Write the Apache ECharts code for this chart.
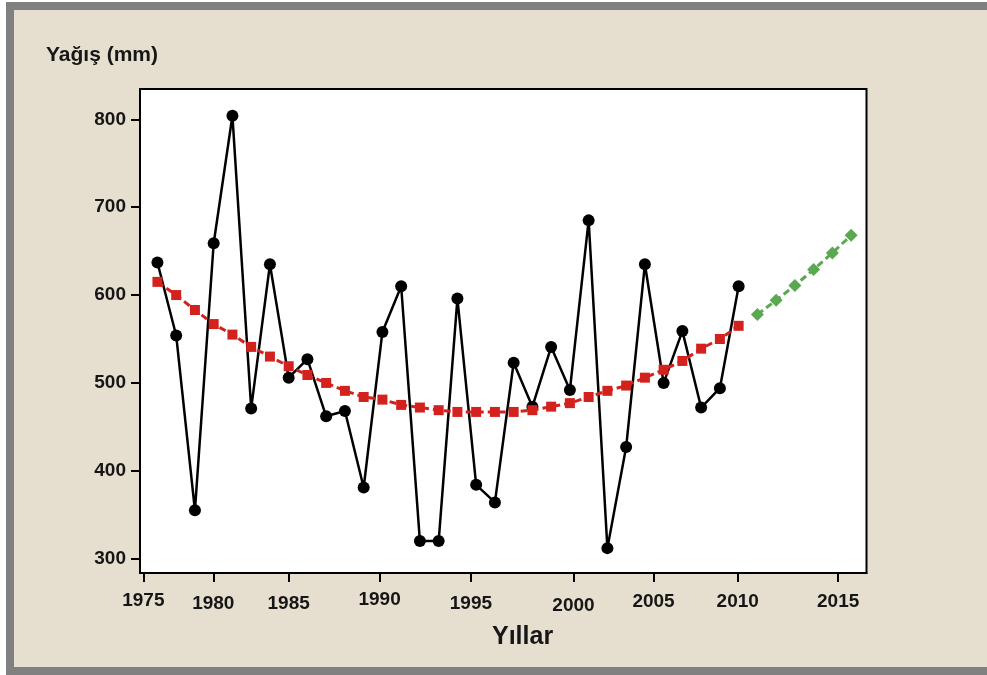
<!DOCTYPE html>
<html>
<head>
<meta charset="utf-8">
<script src="https://cdn.jsdelivr.net/npm/echarts@6/dist/echarts.min.js"></script>
<style>
  html, body { margin: 0; padding: 0; background: #ffffff; }
  #frame { position: absolute; left: 6px; top: 2px; width: 981px; height: 673px; background: #808080; }
  #panel { position: absolute; left: 14px; top: 10px; width: 973px; height: 657px; background: #e6dfcf; }
  #chart { position: absolute; left: 0; top: 0; width: 987px; height: 675px; }
</style>
</head>
<body>
<div id="frame"></div>
<div id="panel"></div>
<div id="chart"></div>
<script>
// Annual precipitation (mm), observed series
const years = [1979, 1980, 1981, 1982, 1983, 1984, 1985, 1986, 1987, 1988, 1989, 1990,
               1991, 1992, 1993, 1994, 1995, 1996, 1997, 1998, 1999, 2000, 2001, 2002,
               2003, 2004, 2005, 2006, 2007, 2008, 2009, 2010];
const observed = [637, 554, 355, 659, 804, 471, 635, 506, 527, 462, 468, 381,
                  558, 610, 320, 320, 596, 384, 364, 523, 473, 541, 492, 685,
                  312, 427, 635, 500, 559, 472, 494, 610];
// Fitted trend over the observed years
const trend = [615, 600, 583, 567, 555, 541, 530, 519, 509, 500, 491, 484,
               481, 475, 472, 469, 467, 467, 467, 467, 469, 473, 477, 484,
               491, 497, 506, 515, 525, 539, 550, 565];
// Projection beyond the observed period
const forecastYears = [2011, 2012, 2013, 2014, 2015, 2016];
const forecast = [578, 594, 611, 629, 648, 668];

// Axis tick labels
const xTickLabels = ['1975', '1980', '1985', '1990', '1995', '2000', '2005', '2010', '2015'];
const yTickLabels = [300, 400, 500, 600, 700, 800];

// Where each x tick sits on the year scale, and a small vertical nudge for its label
const xTickPos = [1978.25, 1981.98, 1986.0, 1990.85, 1995.72, 2001.19, 2005.46, 2009.95, 2015.31];
const xTickNudge = [2, 5, 5, 1, 5, 7, 3, 3, 3];

const FONT = '"Liberation Sans", Arial, sans-serif';
const INK = '#161616';

const rich = {};
xTickNudge.forEach((p, i) => {
  rich['n' + i] = { fontFamily: FONT, fontSize: 19, fontWeight: 'bold', color: INK, padding: [p, 0, 0, 0] };
});

const chart = echarts.init(document.getElementById('chart'), null, { renderer: 'canvas' });

chart.setOption({
  backgroundColor: 'transparent',
  animation: false,
  title: [
    {
      text: 'Yağış (mm)', left: 46, top: 45, padding: 0,
      textStyle: { fontFamily: FONT, fontSize: 21, fontWeight: 'bold', color: INK }
    },
    {
      text: 'Yıllar', left: 492, top: 625, padding: 0,
      textStyle: { fontFamily: FONT, fontSize: 25, fontWeight: 'bold', color: INK }
    }
  ],
  grid: {
    left: 140, top: 89, right: 120.5, bottom: 102,
    show: true, backgroundColor: '#ffffff', borderColor: '#000000', borderWidth: 2
  },
  xAxis: {
    type: 'value',
    min: 1978.07, max: 2016.82,
    axisLine: { show: true, lineStyle: { color: '#000', width: 2 } },
    axisTick: { show: true, length: 9, lineStyle: { color: '#000', width: 2 }, customValues: xTickPos },
    axisLabel: {
      customValues: xTickPos,
      margin: 16,
      formatter: function (v) {
        let k = 0, best = Infinity;
        xTickPos.forEach((p, i) => { const d = Math.abs(p - v); if (d < best) { best = d; k = i; } });
        return '{n' + k + '|' + xTickLabels[k] + '}';
      },
      rich: rich
    },
    splitLine: { show: false }
  },
  yAxis: {
    type: 'value',
    min: 283.7, max: 834.5,
    axisLine: { show: true, lineStyle: { color: '#000', width: 2 } },
    axisTick: { show: true, length: 9, lineStyle: { color: '#000', width: 2 }, customValues: yTickLabels },
    axisLabel: {
      customValues: yTickLabels,
      margin: 14,
      fontFamily: FONT, fontSize: 19, fontWeight: 'bold', color: INK
    },
    splitLine: { show: false }
  },
  series: [
    {
      name: 'Yağış',
      type: 'line',
      data: years.map((y, i) => [y, observed[i]]),
      symbol: 'circle', symbolSize: 12,
      itemStyle: { color: '#000000' },
      lineStyle: { color: '#000000', width: 2.5 },
      z: 3
    },
    {
      name: 'Trend',
      type: 'line',
      data: years.map((y, i) => [y, trend[i]]),
      symbol: 'rect', symbolSize: 10,
      itemStyle: { color: '#d3221e' },
      lineStyle: { color: '#d3221e', width: 3, type: [7, 4] },
      z: 4
    },
    {
      name: 'Tahmin',
      type: 'line',
      data: forecastYears.map((y, i) => [y, forecast[i]]),
      symbol: 'diamond', symbolSize: 13,
      itemStyle: { color: '#5aa84f' },
      lineStyle: { color: '#5aa84f', width: 3, type: [7, 4] },
      z: 5
    }
  ]
});
</script>
</body>
</html>
